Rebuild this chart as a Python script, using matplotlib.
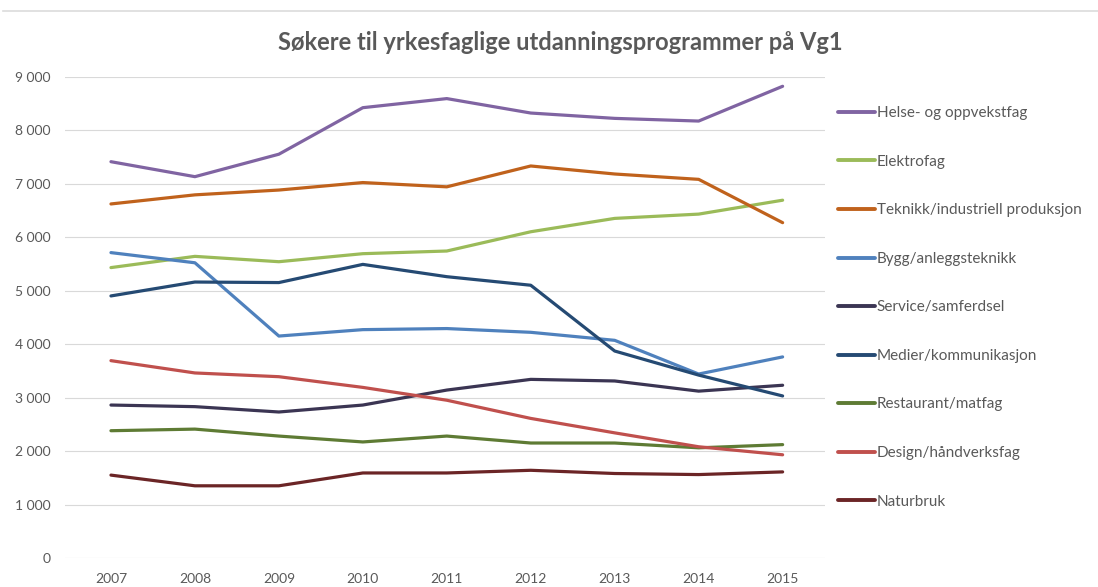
import matplotlib
matplotlib.use("Agg")
import matplotlib.pyplot as plt
from matplotlib.lines import Line2D
from matplotlib.ticker import FuncFormatter

plt.rcParams['font.family'] = ['Lato', 'DejaVu Sans']

years = ["2007", "2008", "2009", "2010", "2011", "2012", "2013", "2014", "2015"]

helse = [7410, 7130, 7550, 8420, 8590, 8320, 8220, 8170, 8820]
elektro = [5430, 5640, 5540, 5690, 5740, 6100, 6350, 6430, 6690]
teknikk = [6620, 6790, 6880, 7020, 6940, 7330, 7180, 7080, 6270]
bygg = [5710, 5520, 4150, 4270, 4290, 4220, 4070, 3440, 3760]
service = [2860, 2830, 2730, 2860, 3140, 3340, 3310, 3120, 3230]
medier = [4900, 5160, 5150, 5490, 5260, 5100, 3870, 3420, 3030]
restaurant = [2380, 2410, 2280, 2170, 2280, 2150, 2150, 2060, 2120]
design = [3690, 3460, 3390, 3190, 2950, 2610, 2340, 2080, 1930]
naturbruk = [1550, 1350, 1350, 1590, 1590, 1640, 1580, 1560, 1610]

series = [
    ("Helse- og oppvekstfag", helse, "#8064A2"),
    ("Elektrofag", elektro, "#9BBB59"),
    ("Teknikk/industriell produksjon", teknikk, "#C0621C"),
    ("Bygg/anleggsteknikk", bygg, "#4F81BD"),
    ("Service/samferdsel", service, "#3B3553"),
    ("Medier/kommunikasjon", medier, "#254A73"),
    ("Restaurant/matfag", restaurant, "#5E7B34"),
    ("Design/håndverksfag", design, "#C0504D"),
    ("Naturbruk", naturbruk, "#6B2526"),
]

fig = plt.figure(figsize=(10.98, 5.87), dpi=100)
ax = fig.add_axes([0.059, 0.0494, 0.692, 0.82])

# faint frame line at the top of the screenshot
fig.add_artist(Line2D([0.003, 1.0], [0.981, 0.981], color='#DCDCDC', lw=1.2))

x = list(range(len(years)))
for name, vals, col in series:
    ax.plot(x, vals, color=col, lw=2.3, label=name, solid_capstyle='round')

ax.set_xlim(-0.55, 8.5)
ax.set_ylim(0, 9000)
ax.set_yticks(range(0, 9001, 1000))
ax.yaxis.set_major_formatter(FuncFormatter(lambda v, p: f"{int(v):,}".replace(",", " ")))
ax.set_xticks(x)
ax.set_xticklabels(years)
ax.grid(axis='y', color='#D9D9D9', lw=0.8)
ax.set_axisbelow(True)
for s in ax.spines.values():
    s.set_visible(False)
ax.tick_params(length=0, labelsize=10, colors='#595959')
ax.tick_params(axis='y', pad=10)
ax.tick_params(axis='x', pad=11)

fig.text(0.51, 0.928, "Søkere til yrkesfaglige utdanningsprogrammer på Vg1",
         ha='center', va='center', fontsize=17, fontweight='bold', color='#595959')

leg = ax.legend(loc='upper left', bbox_to_anchor=(1.0, 0.967), frameon=False,
                fontsize=11, labelspacing=2.26, handlelength=2.4, handletextpad=0.1,
                borderaxespad=0.5)
for t in leg.get_texts():
    t.set_color('#595959')
for h in leg.get_lines():
    h.set_linewidth(2.8)

fig.savefig("out.png", dpi=100)
